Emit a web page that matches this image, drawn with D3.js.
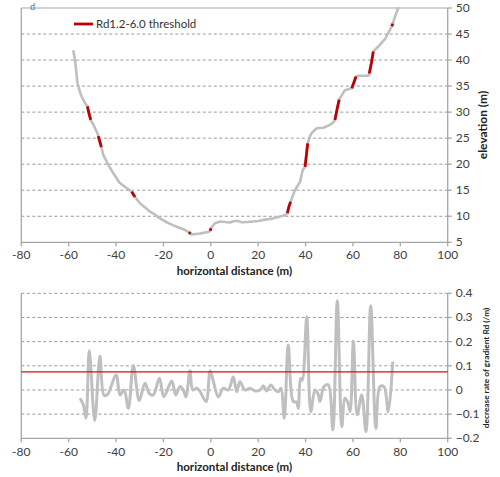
<!DOCTYPE html>
<html>
<head>
<meta charset="utf-8">
<script src="https://cdn.jsdelivr.net/npm/d3@7"></script>
<style>
  html, body { margin: 0; padding: 0; background: #fff; }
  svg { display: block; font-family: "Lato", "DejaVu Sans", sans-serif; }
</style>
</head>
<body>
<svg id="chart" width="500" height="477"></svg>
<script>
// Cross-section profile: horizontal distance (m) and elevation (m)
const profileX = [-58.0,-57.3,-56.3,-55.2,-54.5,-53.2,-52.1,-51.4,-50.7,-49.6,-47.9,-47.5,-46.2,-45.4,-43.3,-41.2,-38.6,-35.5,-33.4,-32.0,-29.9,-28.0,-26.0,-23.5,-21.5,-18.6,-16.5,-14.4,-11.6,-9.2,-8.6,-8.1,-4.6,-1.0,-0.3,0.1,1.0,1.8,3.9,6.0,8.1,10.0,11.5,13.0,15.5,17.9,20.0,22.2,24.5,26.4,28.5,30.5,32.0,32.3,33.0,33.7,35.5,37.7,38.8,39.8,40.4,40.9,42.0,42.6,44.7,47.5,50.3,52.0,52.4,53.4,54.2,54.5,56.6,59.5,60.4,61.3,62.3,66.5,66.9,67.8,68.6,70.7,73.5,75.6,76.4,76.8,77.8,79.1];
const profileZ = [41.7,40.0,35.6,33.8,33.0,31.8,31.1,29.7,28.5,27.6,26.0,25.4,23.3,21.8,19.9,18.3,16.5,15.4,14.7,13.7,12.5,11.8,11.0,10.3,9.6,8.85,8.4,8.0,7.5,6.95,6.6,6.5,6.7,7.0,7.2,7.7,8.3,8.65,9.0,8.9,8.8,9.1,9.1,8.85,8.9,9.0,9.1,9.3,9.45,9.6,9.85,10.1,10.4,10.6,11.9,12.8,15.0,16.65,18.9,19.5,22.0,24.0,25.5,26.0,26.9,27.0,27.55,28.2,28.5,30.8,32.4,32.7,34.2,34.6,35.7,36.85,37.0,37.0,37.4,39.5,41.65,42.6,44.0,45.8,46.5,47.0,48.4,50.0];

// Stretches of the profile where Rd exceeds the 1.2-6.0 threshold (start, end distance)
const thresholdStart = [-52.1,-47.5,-33.4,-9.2,-0.3,32.3,39.8,52.4,59.5,66.9,76.4];
const thresholdEnd   = [-50.7,-46.2,-32.0,-8.6, 0.1,33.7,40.9,54.2,61.3,68.6,76.8];

// Decrease rate of gradient Rd (/m) along the profile
const rdX = [-55.2,-53.8,-52.7,-51.3,-49.0,-46.8,-45.1,-43.7,-40.0,-38.3,-36.6,-34.8,-32.7,-30.2,-27.8,-26.0,-24.3,-21.7,-19.8,-16.5,-14.8,-13.0,-11.6,-10.5,-8.8,-7.6,-5.9,-4.5,-2.0,-0.3,1.1,3.2,5.3,7.4,9.5,10.9,12.3,14.4,16.5,18.7,20.8,22.2,23.6,25.3,27.1,28.5,29.6,31.0,32.7,34.8,36.2,36.9,37.9,38.6,40.5,42.2,44.0,45.4,46.1,47.8,49.6,51.5,53.4,55.3,56.6,57.8,58.8,60.2,61.8,63.7,65.5,67.5,69.7,71.4,73.1,74.9,76.8];
const rdV = [-0.034,-0.062,-0.117,0.163,-0.127,0.141,-0.021,-0.020,0.062,-0.021,0.000,-0.076,0.101,-0.044,0.028,-0.014,-0.021,0.048,-0.028,0.037,-0.021,0.014,0.000,-0.028,0.080,0.000,0.007,-0.007,-0.048,0.080,0.034,-0.028,0.007,0.000,0.055,-0.007,0.034,0.000,0.007,-0.004,0.000,0.017,-0.004,0.021,0.000,-0.007,0.007,-0.117,0.186,-0.048,-0.050,-0.076,0.048,0.040,0.303,-0.090,0.000,-0.020,-0.048,0.014,0.021,-0.165,0.369,-0.152,-0.034,-0.050,-0.090,0.203,-0.103,-0.021,-0.172,0.348,-0.159,0.014,0.014,-0.090,0.117];
const rdThreshold = 0.075;

// Axis ticks
const xTicks = [-80,-60,-40,-20,0,20,40,60,80,100];
const zTicks = [5,10,15,20,25,30,35,40,45,50];
const rdTicks = [-0.2,-0.1,0,0.1,0.2,0.3,0.4];

const svg = d3.select("#chart");
const left = 21.3, right = 447.7;
const axisColor = "#a6a6a6", gridColor = "#9a9a9a", textColor = "#404040";
const lineGray = "#bfbfbf", red = "#c00000";

const x = d3.scaleLinear().domain([-80, 100]).range([left, right]);

// panel frame, dashed grid and tick labels
function panel(y, ticks, fmt, top, bottom, dashedTop, xLabelY, titleY) {
  const g = svg.append("g");
  ticks.forEach(t => {
    if (t === ticks[0]) return;
    if (t === ticks[ticks.length - 1] && !dashedTop) return;
    g.append("line")
      .attr("x1", left).attr("x2", right)
      .attr("y1", y(t)).attr("y2", y(t))
      .attr("stroke", gridColor).attr("stroke-width", 1)
      .attr("stroke-dasharray", "3,2.5");
  });
  if (!dashedTop) {
    g.append("line").attr("x1", left).attr("x2", right)
      .attr("y1", top).attr("y2", top)
      .attr("stroke", axisColor).attr("stroke-width", 1);
  }
  // left, bottom, right frame
  g.append("path")
    .attr("d", `M${left},${top}V${bottom}H${right}V${top}`)
    .attr("fill", "none").attr("stroke", axisColor).attr("stroke-width", 1.3);

  // x ticks and labels
  xTicks.forEach(t => {
    g.append("line").attr("x1", x(t)).attr("x2", x(t))
      .attr("y1", bottom).attr("y2", bottom + 4)
      .attr("stroke", axisColor).attr("stroke-width", 1.3);
    g.append("text").attr("x", x(t)).attr("y", xLabelY)
      .attr("text-anchor", "middle").attr("font-size", 12)
      .attr("fill", textColor).text(t);
  });
  // right-side y ticks and labels
  ticks.forEach(t => {
    g.append("line").attr("x1", right).attr("x2", right + 4)
      .attr("y1", y(t)).attr("y2", y(t))
      .attr("stroke", axisColor).attr("stroke-width", 1.3);
    g.append("text").attr("x", right + 8).attr("y", y(t) + 4)
      .attr("font-size", 12).attr("fill", textColor).text(fmt(t));
  });
  g.append("text").attr("x", (left + right) / 2).attr("y", titleY)
    .attr("text-anchor", "middle").attr("font-size", 11.5)
    .attr("font-weight", "bold").attr("fill", "#222")
    .text("horizontal distance (m)");
  return g;
}

// ---- upper panel: elevation profile ----
const yTop = d3.scaleLinear().domain([5, 50]).range([242.3, 8]);
panel(yTop, zTicks, d => d, 8, 242.3, false, 259, 275);

svg.append("text")
  .attr("transform", `translate(487,125) rotate(-90)`)
  .attr("text-anchor", "middle").attr("font-size", 12)
  .attr("font-weight", "bold").attr("fill", "#222")
  .text("elevation (m)");

const profile = profileX.map((d, i) => [d, profileZ[i]]);
const line = d3.line().x(d => x(d[0])).y(d => yTop(d[1]));

svg.append("path").datum(profile)
  .attr("d", line).attr("fill", "none")
  .attr("stroke", lineGray).attr("stroke-width", 2.6)
  .attr("stroke-linejoin", "round").attr("stroke-linecap", "round");

thresholdStart.forEach((s, i) => {
  const seg = profile.filter(p => p[0] >= s && p[0] <= thresholdEnd[i]);
  svg.append("path").datum(seg)
    .attr("d", line).attr("fill", "none")
    .attr("stroke", red).attr("stroke-width", 2.8)
    .attr("stroke-linejoin", "round");
});

// legend
svg.append("line").attr("x1", 74).attr("x2", 93).attr("y1", 24).attr("y2", 24)
  .attr("stroke", red).attr("stroke-width", 2.8);
svg.append("text").attr("x", 96).attr("y", 28)
  .attr("font-size", 11.5).attr("fill", "#333").text("Rd1.2-6.0 threshold");

// ---- lower panel: decrease rate of gradient ----
const yBot = d3.scaleLinear().domain([-0.2, 0.4]).range([438.3, 293.3]);
panel(yBot, rdTicks, d => d3.format("")(+d.toFixed(1)), 293.3, 438.3, true, 456, 471);

svg.append("text")
  .attr("transform", `translate(489,368) rotate(-90)`)
  .attr("text-anchor", "middle").attr("font-size", 8.3)
  .attr("font-weight", "bold").attr("fill", "#222")
  .text("decrease rate of gradient Rd (/m)");

const rd = rdX.map((d, i) => [d, rdV[i]]);
svg.append("path").datum(rd)
  .attr("d", d3.line().curve(d3.curveCatmullRom.alpha(0.5))
    .x(d => x(d[0])).y(d => yBot(d[1])))
  .attr("fill", "none").attr("stroke", lineGray).attr("stroke-width", 3)
  .attr("stroke-linejoin", "round");

svg.append("line").attr("x1", left).attr("x2", right)
  .attr("y1", yBot(rdThreshold)).attr("y2", yBot(rdThreshold))
  .attr("stroke", "#d01010").attr("stroke-width", 1.3);

// panel letter
svg.append("text").attr("x", 30).attr("y", 9.5)
  .attr("font-size", 9).attr("fill", "#2a7fc9").text("d");
</script>
</body>
</html>
